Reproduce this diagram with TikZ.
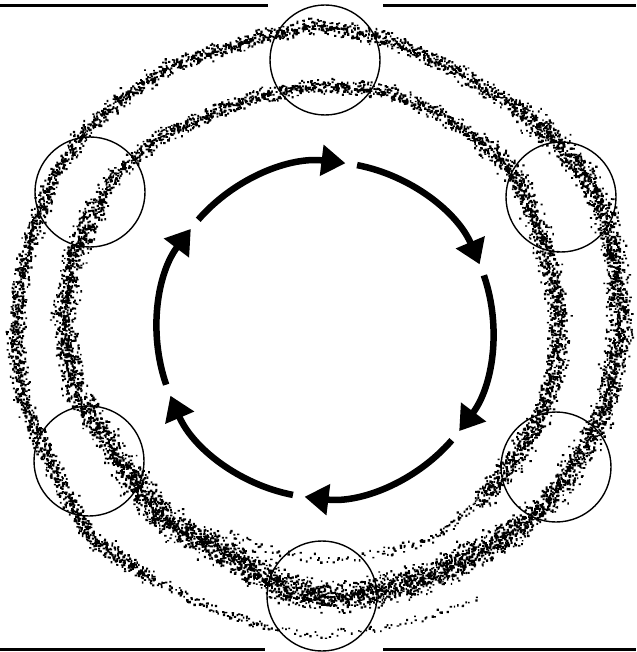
\documentclass[tikz,border=0pt]{standalone}
\usepackage{tikz}
\usetikzlibrary{arrows.meta, calc}

\tikzset{
  marker/.style={draw, circle, line width=1.4pt, minimum size=110pt, inner sep=0pt},
  cyclearrow/.style={line width=6.5pt, -{Triangle[length=24pt,width=30pt]}},
  rule/.style={line width=3.5pt},
}
% random specks along a polyline: spread, specks per pt, list of x/y
\newcommand{\speckband}[3]{%
  \foreach \x/\y [count=\j, remember=\x as \px (initially 0), remember=\y as \py (initially 0)] in {#3}{
    \ifnum\j>1
      \pgfmathsetmacro\dx{\x-\px}
      \pgfmathsetmacro\dy{\y-\py}
      \pgfmathtruncatemacro\nn{veclen(\dx,\dy)*#2}
      \ifnum\nn>0
        \fill \foreach \i in {1,...,\nn}{
          ({\px+\i/\nn*\dx+#1*(rand+rand)/2}, {\py+\i/\nn*\dy+#1*(rand+rand)/2})
            rectangle ++({1.4+1.1*rnd},{1.4+1.1*rnd})
        };
      \fi
    \fi
  }%
}

\begin{document}
\begin{tikzpicture}[x=1pt, y=1pt, yscale=-1]
  \useasboundingbox (0,0) rectangle (636,652);
  % Rules top and bottom
  \draw[rule] (0,5.5) -- (268,5.5);
  \draw[rule] (383,5.5) -- (636,5.5);
  \draw[rule] (0,649.5) -- (265,649.5);
  \draw[rule] (383,649.5) -- (636,649.5);
  % Spiral band, outer turn first
  \pgfmathsetseed{11}
  \speckband{5}{0.3}{480/596, 433/613, 383/627, 317/635, 267/627}
  \speckband{6}{0.8}{267/627, 217/610, 150/577}
  \speckband{10}{2.8}{150/577, 90/537, 62/487, 38/437, 22/400, 14/337, 19/287, 32/230, 47/190}
  \speckband{9}{2.4}{47/190, 60/165, 83/133, 117/100, 167/67, 233/43, 316/24, 383/37, 449/67, 516/107}
  \speckband{14}{4}{516/107, 556/140, 585/175, 603/210, 616/267, 619/333, 606/400, 583/450, 549/500, 516/530}
  \speckband{17}{5.5}{516/530, 483/548, 433/573, 383/590, 333/597, 283/587, 217/547, 160/518, 127/470}
  % inner turn
  \speckband{14}{4}{127/470, 93/420, 73/387, 63/320, 73/253, 97/203}
  \speckband{9}{2.4}{97/203, 110/180, 133/157, 167/133, 217/110, 267/93, 320/84, 383/90, 433/110, 483/143}
  \speckband{12}{3.5}{483/143, 516/177, 543/240, 559/317, 556/367, 539/417, 513/460, 480/500}
  \speckband{6}{0.7}{480/500, 433/537, 383/552}
  \speckband{5}{0.3}{383/552, 333/560, 283/553, 227/532}
  % Six ring markers
  \node[marker] (mt) at (325,60) {};
  \node[marker] (mul) at (90,192) {};
  \node[marker] (mur) at (561,197) {};
  \node[marker] (mll) at (89,461) {};
  \node[marker] (mlr) at (556,467) {};
  \node[marker] (mb) at (322,596) {};
  % Central cycle of arrows
  \coordinate (ctr) at (325,330);
  \foreach \k in {0,...,5}{
    \coordinate (s\k) at ($(ctr)+(221+60*\k:168)$);
    \draw[cyclearrow] (s\k) arc[start angle=221+60*\k, end angle=277+60*\k, radius=168];
  }
\end{tikzpicture}
\end{document}
